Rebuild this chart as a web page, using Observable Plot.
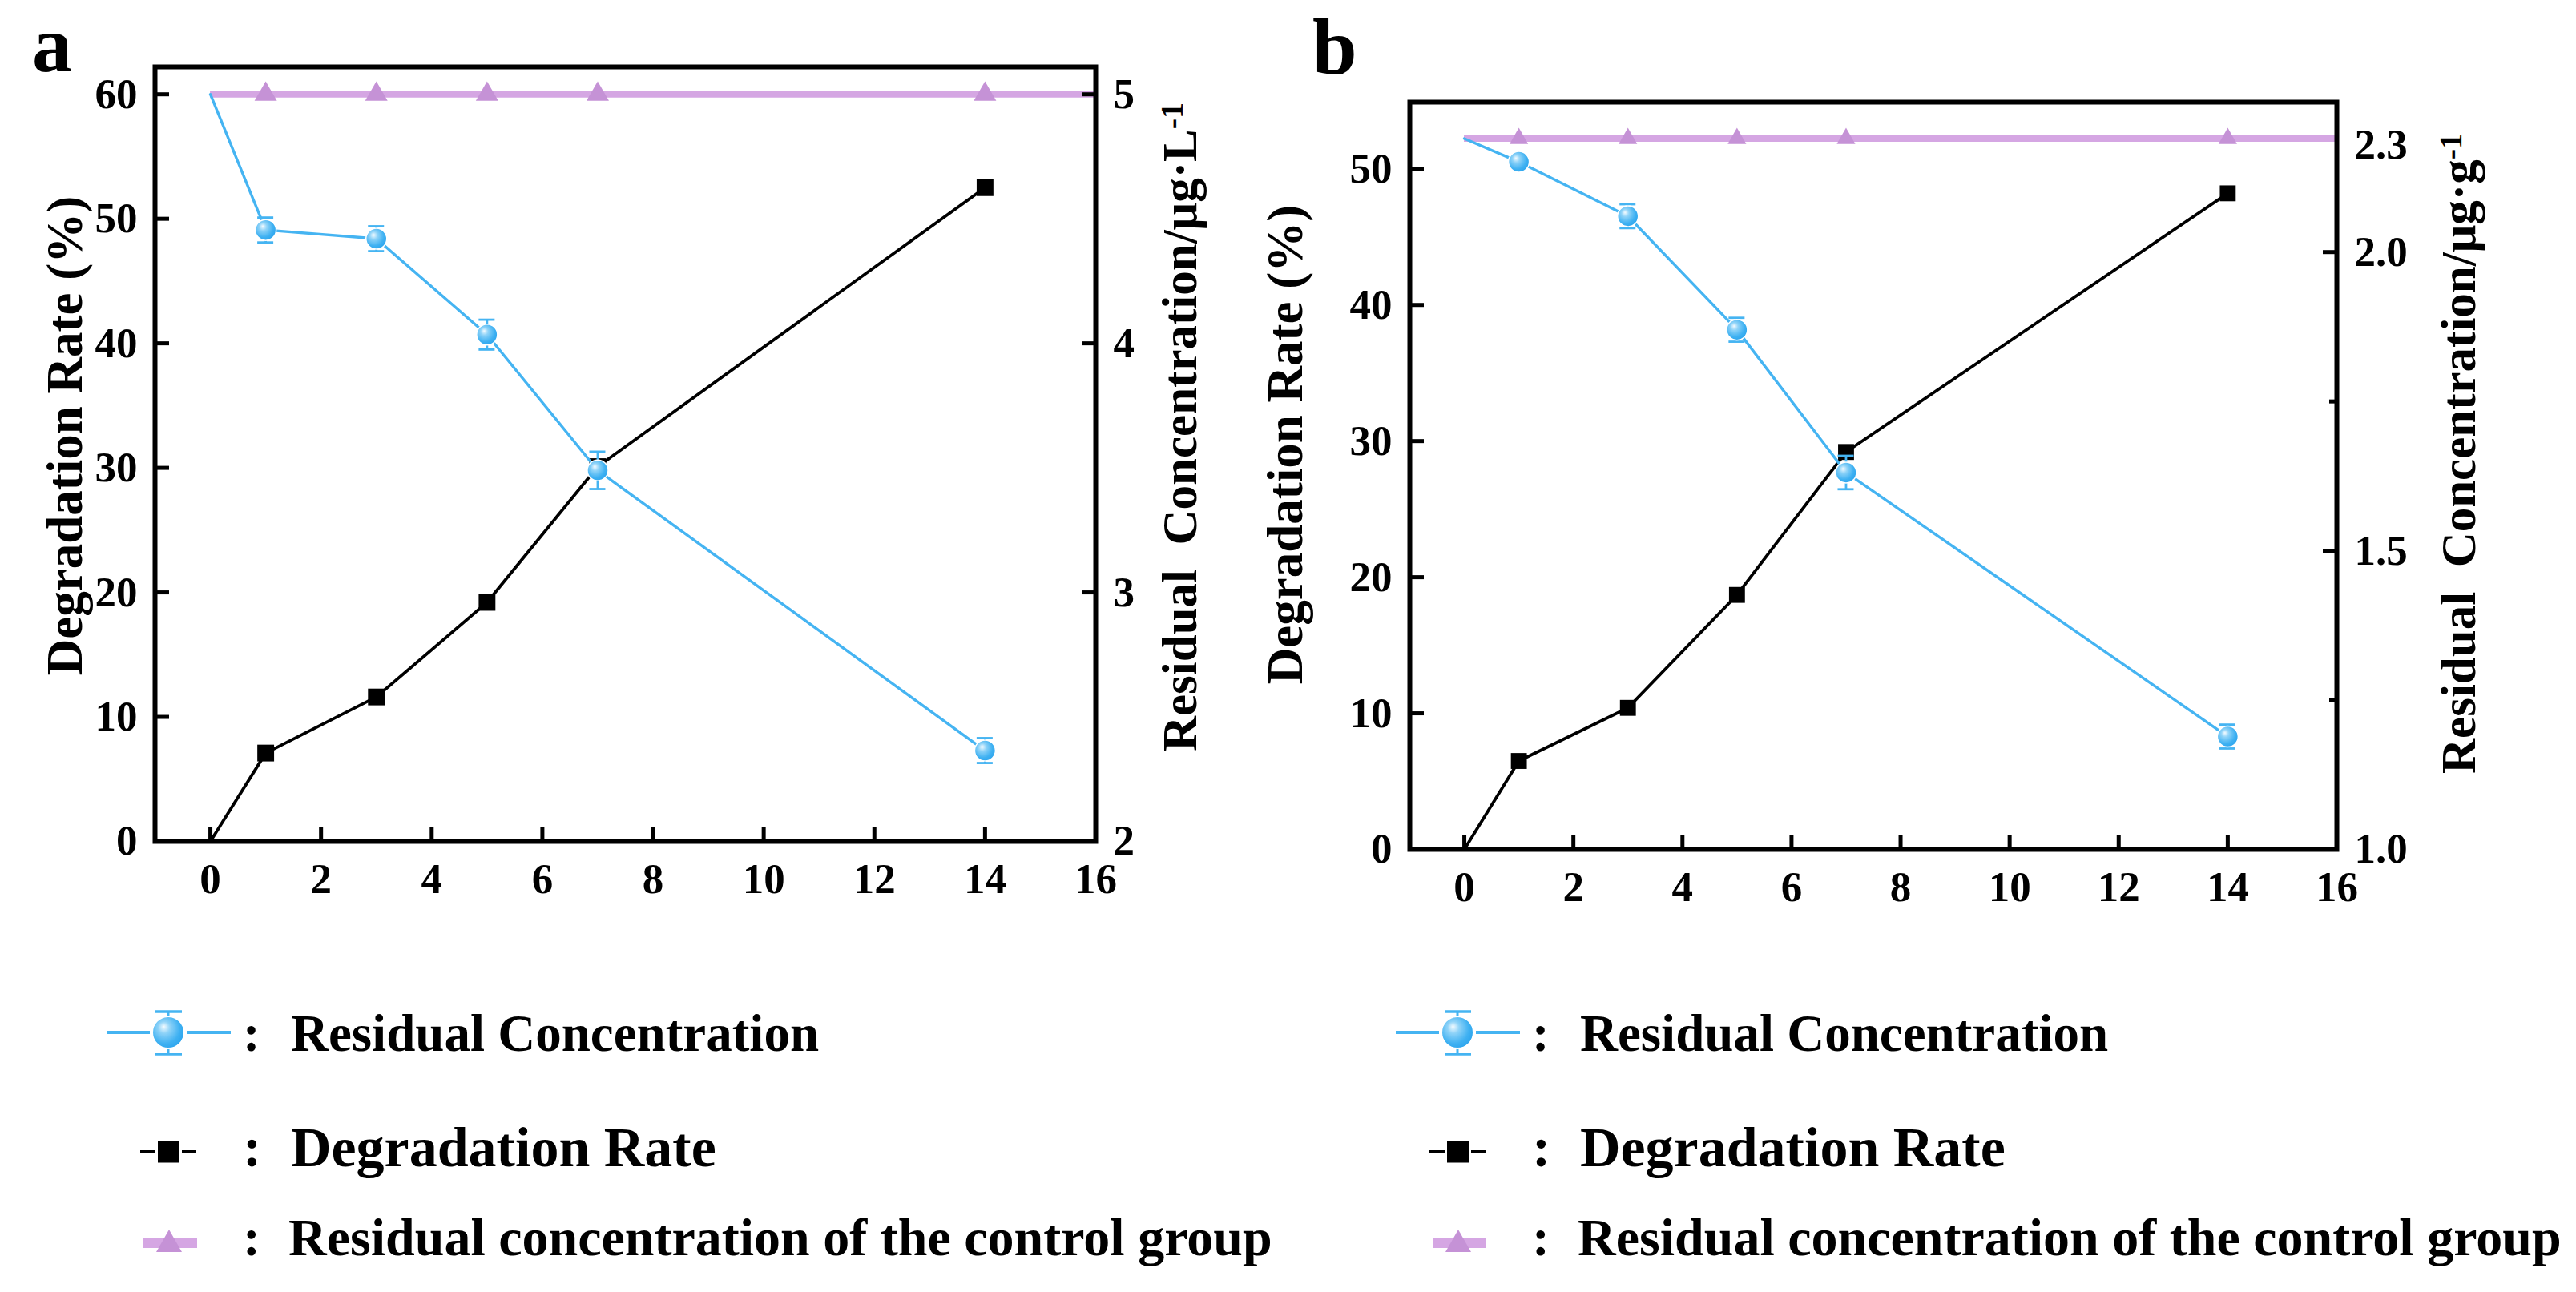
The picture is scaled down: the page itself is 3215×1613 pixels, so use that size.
<!DOCTYPE html>
<html><head><meta charset="utf-8">
<script src="https://cdn.jsdelivr.net/npm/d3@7"></script>
<script src="https://cdn.jsdelivr.net/npm/@observablehq/plot@0.6"></script>
<style>
html,body{margin:0;padding:0;background:#fff;}
#page{position:relative;width:3215px;height:1613px;overflow:hidden;font-family:"Liberation Serif","Times New Roman",serif;font-weight:bold;color:#000;background:#fff;}
.abs{position:absolute;}
.lbl{font-size:100px;line-height:1.107;}
.leg{line-height:1;white-space:nowrap;}
</style></head><body>
<svg width="0" height="0" style="position:absolute"><defs>
<radialGradient id="sphere" cx="0.4" cy="0.4" r="0.62" fx="0.36" fy="0.32">
<stop offset="0" stop-color="#f4fbff"/><stop offset="0.3" stop-color="#8fd3f8"/><stop offset="0.75" stop-color="#3fb1f2"/><stop offset="1" stop-color="#2ea6ee"/>
</radialGradient></defs></svg>
<div id="page"></div>
<script>
// ---------- data ----------
const days = [0, 1, 3, 5, 7, 14];
const xTicks = [0, 2, 4, 6, 8, 10, 12, 14, 16];
const xDomain = [-1, 16];
const ctrlDays = [1, 3, 5, 7, 14];

// panel a: degradation rate (%) and residual concentration (μg·L-1)
const degA = [0, 7.1, 11.6, 19.2, 30.1, 52.5];
const resA = [5.0, 4.455, 4.42, 4.035, 3.49, 2.365];
const errA = [0, 0.05, 0.05, 0.06, 0.075, 0.05];
const ctrlA = 5.0;
const yTicksA = [0, 10, 20, 30, 40, 50, 60];
const rTicksA = [2, 3, 4, 5];
const yDomainA = [0, 62.2];
const rDomainA = [2, 5.11];

// panel b: degradation rate (%) and residual concentration (μg·g-1)
const degB = [0, 6.5, 10.4, 18.7, 29.2, 48.2];
const resB = [2.19, 2.151, 2.06, 1.87, 1.631, 1.189];
const errB = [0, 0.01, 0.02, 0.02, 0.028, 0.02];
const ctrlB = 2.19;
const ctrlLabelB = "2.3";
const yTicksB = [0, 10, 20, 30, 40, 50];
const rTicksB = [1.0, 1.5, 2.0];
const rMinorB = [1.25, 1.75];
const yDomainB = [0, 54.9];
const rDomainB = [1.0, 2.251];

const leftTitle = "Degradation Rate (%)";
const rightTitleA = ["Residual\u00a0 Concentration/μg·L", "-1"];
const rightTitleB = ["Residual\u00a0 Concentration/μg·g", "-1"];
const legendLabels = ["Residual Concentration", "Degradation Rate", "Residual concentration of the control group"];

// ---------- style ----------
const BLUE = "#45b4f2", PURPLE = "#d5a6e3", PURPLE_D = "#c592d6";
const FONT = '"Liberation Serif","Times New Roman",serif';
const TICK_FS = 53;

function panel(cfg) {
  const k = (cfg.yDomain[1] - cfg.yDomain[0]) / (cfg.rDomain[1] - cfg.rDomain[0]);
  const toL = r => (r - cfg.rDomain[0]) * k + cfg.yDomain[0];
  const fromL = v => (v - cfg.yDomain[0]) / k + cfg.rDomain[0];
  const res = days.map((d, i) => ({day: d, v: toL(cfg.res[i]), lo: toL(cfg.res[i] - cfg.err[i]), hi: toL(cfg.res[i] + cfg.err[i]), e: cfg.err[i]}));
  const deg = days.map((d, i) => ({day: d, v: cfg.deg[i]}));
  const ctrl = ctrlDays.map(d => ({day: d, v: toL(cfg.ctrl)}));
  const errPts = res.filter(d => d.e > 0);
  const marks = [
    Plot.ruleY([toL(cfg.ctrl)], {x1: days[0], x2: xDomain[1], stroke: PURPLE, strokeWidth: 8}),
    Plot.dot(ctrl, {x: "day", y: "v", symbol: "triangle", r: cfg.triR, fill: PURPLE_D}),
    Plot.line(deg, {x: "day", y: "v", stroke: "black", strokeWidth: 3.8}),
    Plot.dot(deg.slice(1), {x: "day", y: "v", symbol: "square", r: cfg.sqR, fill: "black"}),
    Plot.line(res, {x: "day", y: "v", stroke: BLUE, strokeWidth: 3.4}),
    Plot.ruleX(errPts, {x: "day", y1: "lo", y2: "hi", stroke: BLUE, strokeWidth: 2.8}),
    Plot.ruleY(errPts, {y: "lo", x1: "day", x2: "day", insetLeft: -10, insetRight: -10, stroke: BLUE, strokeWidth: 2.8}),
    Plot.ruleY(errPts, {y: "hi", x1: "day", x2: "day", insetLeft: -10, insetRight: -10, stroke: BLUE, strokeWidth: 2.8}),
    Plot.dot(res.slice(1), {x: "day", y: "v", r: 13, fill: BLUE, stroke: "white", strokeWidth: 1.5}),
    Plot.frame({stroke: "black", strokeWidth: 6}),
    Plot.axisX({ticks: xTicks, tickSize: -18, tickPadding: 45, strokeWidth: 5, fontSize: TICK_FS, label: null, tickFormat: d3.format("d")}),
    Plot.axisY({ticks: cfg.yTicks, tickSize: -18, tickPadding: 40, strokeWidth: 5, fontSize: TICK_FS, label: null, tickFormat: d3.format("d")}),
    Plot.axisY(cfg.rTicks.map(toL), {anchor: "right", tickSize: -18, tickPadding: 40, strokeWidth: 5, fontSize: TICK_FS, label: null, tickFormat: v => d3.format(cfg.rFmt)(fromL(v))}),
    Plot.text([leftTitle], {text: d => d, frameAnchor: "left", rotate: -90, dx: cfg.ltDx, dy: cfg.ltDy, fontSize: 63, fontWeight: "bold", textAnchor: "middle"}),
    Plot.text([cfg.rightTitle[0]], {text: d => d, frameAnchor: "right", rotate: -90, dx: cfg.rtDx, dy: cfg.rtDy, fontSize: 61, fontWeight: "bold", textAnchor: "middle"})
  ];
  if (cfg.rMinor) {
    marks.push(Plot.axisY(cfg.rMinor.map(toL), {anchor: "right", tickSize: -10, tickPadding: 0, strokeWidth: 5, fontSize: TICK_FS, label: null, tickFormat: () => ""}));
  }
  if (cfg.ctrlLabel) {
    marks.push(Plot.text([toL(cfg.ctrl)], {y: d => d, text: () => cfg.ctrlLabel, frameAnchor: "right", dx: 22, dy: 8, textAnchor: "start", fontSize: TICK_FS, fontWeight: "bold"}));
  }
  const svg = Plot.plot({
    width: cfg.width, height: cfg.height,
    marginLeft: cfg.ml, marginRight: cfg.mr, marginTop: cfg.mt, marginBottom: cfg.mb,
    x: {domain: xDomain, label: null},
    y: {domain: cfg.yDomain, label: null},
    style: {fontFamily: FONT, fontWeight: "bold", background: "white", color: "black", overflow: "visible"},
    marks
  });
  svg.querySelectorAll("circle").forEach(c => c.setAttribute("fill", "url(#sphere)"));
  // superscript in the right title
  svg.querySelectorAll("text").forEach(t => {
    if (t.textContent === cfg.rightTitle[0]) {
      const sup = document.createElementNS("http://www.w3.org/2000/svg", "tspan");
      sup.setAttribute("dy", "-0.42em");
      sup.setAttribute("font-size", "40");
      sup.textContent = cfg.rightTitle[1];
      t.appendChild(sup);
    }
  });
  return svg;
}

const page = document.getElementById("page");
function place(el, left, top) {
  const d = document.createElement("div");
  d.className = "abs"; d.style.left = left + "px"; d.style.top = top + "px";
  d.appendChild(el); page.appendChild(d); return d;
}

place(panel({width: 1600, height: 1160, ml: 193, mr: 233, mt: 83, mb: 110,
  deg: degA, res: resA, err: errA, ctrl: ctrlA, yTicks: yTicksA, rTicks: rTicksA, rFmt: ".0f",
  yDomain: yDomainA, rDomain: rDomainA, triR: 10.4, sqR: 11.8,
  rightTitle: rightTitleA, ltDx: -112, ltDy: -23, rtDx: 106, rtDy: -34}), 0, 0);

place(panel({width: 1615, height: 1160, ml: 159, mr: 299, mt: 127, mb: 100,
  deg: degB, res: resB, err: errB, ctrl: ctrlB, ctrlLabel: ctrlLabelB, yTicks: yTicksB, rTicks: rTicksB, rMinor: rMinorB, rFmt: ".1f",
  yDomain: yDomainB, rDomain: rDomainB, triR: 8.6, sqR: 11.2,
  rightTitle: rightTitleB, ltDx: -155, ltDy: -39, rtDx: 153, rtDy: -28}), 1600, 0);

// panel letters
[["a", 40, 1], ["b", 1638, 4]].forEach(([t, x, y]) => {
  const d = document.createElement("div");
  d.className = "abs lbl"; d.style.left = x + "px"; d.style.top = y + "px"; d.textContent = t;
  page.appendChild(d);
});

// ---------- legends ----------
const ls = d3.select(page).append("svg").attr("class", "abs").style("left", "0px").style("top", "0px")
  .attr("width", 3215).attr("height", 1613).style("pointer-events", "none");
const rowY = [1289, 1438, 1552];
const rowBase = [1312, 1457, 1567];
const rowFs = [65, 70, 66];
[0, 1609].forEach(ox => {
  const g = ls.append("g").attr("transform", `translate(${ox},0)`);
  // row 1: blue line + sphere + error bar
  g.append("line").attr("x1", 133).attr("x2", 187).attr("y1", rowY[0]).attr("y2", rowY[0]).attr("stroke", BLUE).attr("stroke-width", 4);
  g.append("line").attr("x1", 233).attr("x2", 288).attr("y1", rowY[0]).attr("y2", rowY[0]).attr("stroke", BLUE).attr("stroke-width", 4);
  g.append("line").attr("x1", 210).attr("x2", 210).attr("y1", 1263).attr("y2", 1316).attr("stroke", BLUE).attr("stroke-width", 3);
  g.append("line").attr("x1", 194).attr("x2", 227).attr("y1", 1263).attr("y2", 1263).attr("stroke", BLUE).attr("stroke-width", 3.5);
  g.append("line").attr("x1", 194).attr("x2", 227).attr("y1", 1316).attr("y2", 1316).attr("stroke", BLUE).attr("stroke-width", 3.5);
  g.append("circle").attr("cx", 210).attr("cy", rowY[0]).attr("r", 20).attr("fill", "url(#sphere)").attr("stroke", "white").attr("stroke-width", 2);
  // row 2: black line + square
  g.append("line").attr("x1", 175).attr("x2", 194).attr("y1", rowY[1]).attr("y2", rowY[1]).attr("stroke", "black").attr("stroke-width", 4);
  g.append("line").attr("x1", 227).attr("x2", 245).attr("y1", rowY[1]).attr("y2", rowY[1]).attr("stroke", "black").attr("stroke-width", 4);
  g.append("rect").attr("x", 197).attr("y", rowY[1] - 13.5).attr("width", 27).attr("height", 27).attr("fill", "black");
  // row 3: purple bar + triangle
  g.append("rect").attr("x", 179).attr("y", rowY[2] - 6).attr("width", 67).attr("height", 12).attr("fill", PURPLE);
  g.append("path").attr("d", `M195,1563L227,1563L211,1535Z`).attr("fill", PURPLE_D);
});
[0, 1609].forEach(ox => {
  legendLabels.forEach((t, i) => {
    const top = rowBase[i] - 0.8375 * rowFs[i];
    const c = document.createElement("div");
    c.className = "abs leg"; c.style.fontSize = rowFs[i] + "px";
    c.style.left = (ox + 303) + "px"; c.style.top = top + "px"; c.textContent = ":";
    page.appendChild(c);
    const d = document.createElement("div");
    d.className = "abs leg"; d.style.fontSize = rowFs[i] + "px";
    d.style.left = (ox + 363 - (i === 2 ? 3 : 0)) + "px"; d.style.top = top + "px"; d.textContent = t;
    page.appendChild(d);
  });
});
</script>
</body></html>
